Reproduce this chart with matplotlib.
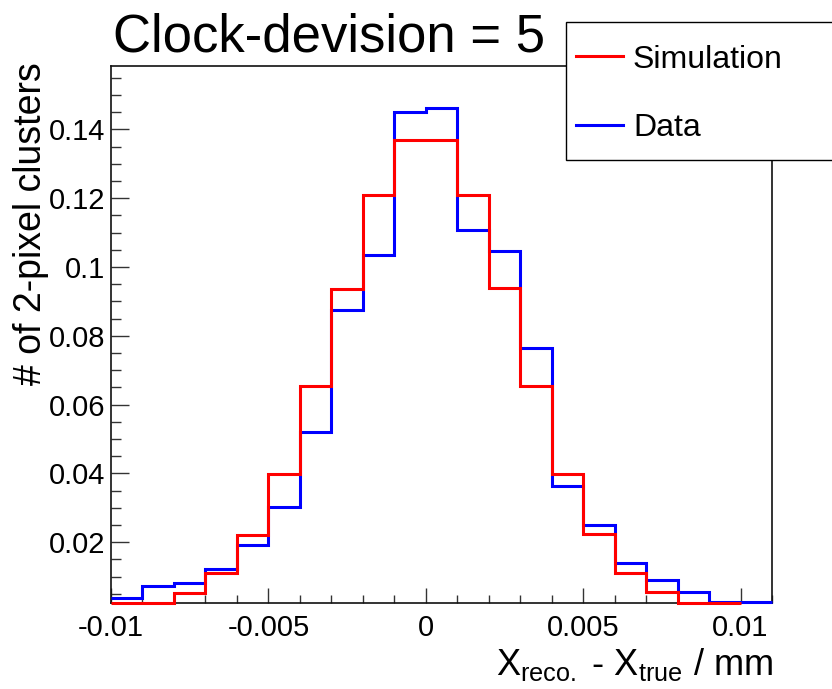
import numpy as np
import matplotlib
matplotlib.use("Agg")
import matplotlib.pyplot as plt
from matplotlib.patches import Rectangle
from matplotlib.lines import Line2D
from matplotlib.ticker import MultipleLocator, FuncFormatter

plt.rcParams['font.family'] = ['Liberation Sans', 'DejaVu Sans']
plt.rcParams['mathtext.fontset'] = 'custom'
plt.rcParams['mathtext.rm'] = 'Liberation Sans'
plt.rcParams['mathtext.it'] = 'Liberation Sans:italic'

# bin edges (mm)
sim_edges = np.round(np.arange(-0.010, 0.0100001, 0.001), 4)
data_edges = np.round(np.arange(-0.010, 0.0110001, 0.001), 4)

sim_values = [0.0023, 0.0023, 0.0053, 0.0110, 0.0221, 0.0399, 0.0653, 0.0936,
              0.1209, 0.1370, 0.1370, 0.1209, 0.0939, 0.0653, 0.0398, 0.0223,
              0.0111, 0.0056, 0.0023, 0.0023]
data_values = [0.0038, 0.0074, 0.0081, 0.0121, 0.0192, 0.0301, 0.0521, 0.0875,
               0.1035, 0.1450, 0.1463, 0.1106, 0.1045, 0.0764, 0.0362, 0.0250,
               0.0141, 0.0090, 0.0056, 0.0027, 0.0027]

W, H = 832, 689
fig = plt.figure(figsize=(W / 100, H / 100), dpi=100)

def fx(px):
    return px / W

def fy(py):
    return 1 - py / H

ax = fig.add_axes([fx(111), fy(603), fx(772) - fx(111), fy(66) - fy(603)])

ax.stairs(data_values, data_edges, color='#0000ff', lw=2.2, baseline=None,
          clip_on=False, zorder=3)
ax.stairs(sim_values, sim_edges, color='#ff0000', lw=2.2, baseline=None,
          clip_on=False, zorder=4)

ax.set_xlim(-0.010, 0.011)
ax.set_ylim(0.00233, 0.1584)

ax.xaxis.set_major_locator(MultipleLocator(0.005))
ax.xaxis.set_minor_locator(MultipleLocator(0.001))
ax.yaxis.set_major_locator(MultipleLocator(0.02))
ax.yaxis.set_minor_locator(MultipleLocator(0.005))
fmt = FuncFormatter(lambda v, p: '%g' % round(v, 6))
ax.xaxis.set_major_formatter(fmt)
ax.yaxis.set_major_formatter(fmt)

ax.tick_params(which='both', direction='in', top=False, right=False,
               color='#333333', labelsize=21)
ax.tick_params(axis='y', which='major', length=13, width=1, pad=4)
ax.tick_params(axis='y', which='minor', length=7, width=1)
ax.tick_params(axis='x', which='major', length=11, width=1, pad=8)
ax.tick_params(axis='x', which='minor', length=5.5, width=1)
for s in ax.spines.values():
    s.set_linewidth(1.2)
    s.set_color('#111111')

# title
fig.text(fx(113), fy(52), 'Clock-devision = 5', fontsize=38, ha='left',
         va='baseline')

# axis titles
fig.text(fx(31), fy(62), '# of 2-pixel clusters', fontsize=27, rotation=90,
         ha='center', va='top')
fig.text(fx(773), fy(675), r'X$_{\rm reco.}$ - X$_{\rm true}$ / mm',
         fontsize=26, ha='right', va='baseline')

# legend box
fig.add_artist(Rectangle((fx(566), fy(160)), fx(900) - fx(566), fy(22) - fy(160),
                         transform=fig.transFigure, facecolor='white',
                         edgecolor='black', lw=1, zorder=10))
leg_items = [('Simulation', '#ff0000', 56), ('Data', '#0000ff', 125)]
for label, col, py in leg_items:
    fig.add_artist(Line2D([fx(576), fx(623)], [fy(py), fy(py)],
                          transform=fig.transFigure, color=col, lw=2.2,
                          zorder=11))
    fig.text(fx(633), fy(py), label, fontsize=23, ha='left',
             va='center_baseline', zorder=11)

fig.savefig('out.png', dpi=100)
